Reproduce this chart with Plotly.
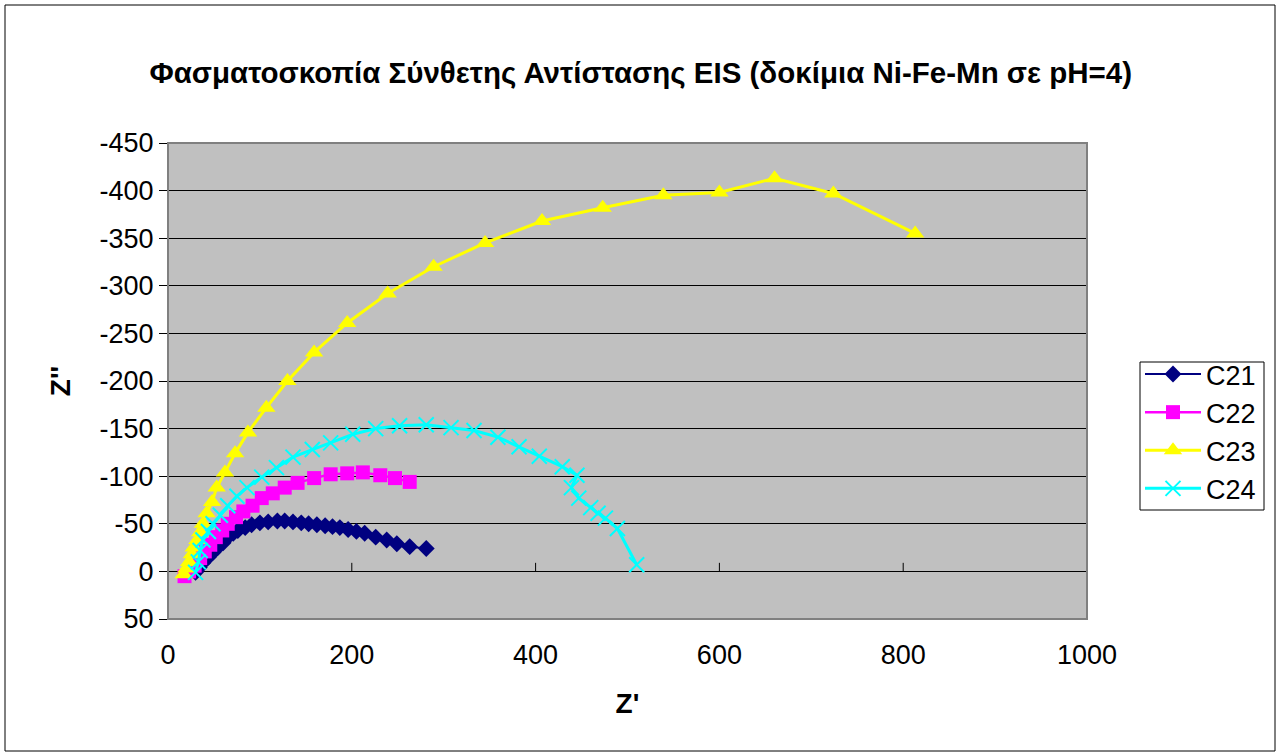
import plotly.graph_objects as go

# Impedance spectra, Z' (real) and Z'' (imaginary) in ohm
c21_re = [30, 34, 38, 44, 49, 54, 60, 65, 71, 76, 84, 91, 100, 109, 119, 127, 136, 145,
          153, 162, 171, 179, 187, 196, 205, 214, 226, 238, 249, 263, 281]
c21_im = [1, -4, -9, -15, -20, -25, -30, -36, -40, -43, -46, -49, -51, -52, -53, -53, -52, -51,
          -50, -49, -48, -47, -46, -44, -42, -40, -36, -33, -29, -26, -24]

c22_re = [18, 23, 29, 35, 40, 46, 52, 59, 65, 74, 82, 92, 102, 114, 127, 141, 159, 177,
          195, 212, 231, 247, 263]
c22_im = [5, 0, -6, -14, -21, -28, -36, -43, -50, -57, -63, -69, -77, -82, -88, -93, -98, -102,
          -103, -104, -101, -98, -94]

c23_re = [17, 20, 23, 26, 28, 32, 35, 38, 42, 48, 53, 62, 73, 87, 107, 130, 159, 195,
          239, 289, 345, 407, 473, 539, 600, 660, 724, 813]
c23_im = [3, -3, -10, -18, -25, -33, -41, -50, -61, -73, -88, -104, -124, -146, -172, -200, -230, -261,
          -292, -320, -345, -368, -382, -395, -398, -413, -397, -355]

c24_re = [30, 33, 35, 38, 44, 49, 57, 65, 75, 86, 102, 118, 136, 157, 177, 201, 226, 252,
          281, 308, 333, 359, 382, 404, 429, 445, 439, 447, 460, 468, 476, 489, 510]
c24_im = [1, -10, -22, -33, -42, -50, -59, -69, -79, -88, -99, -109, -120, -128, -135, -144, -150, -153,
          -154, -151, -148, -141, -131, -121, -110, -101, -88, -77, -67, -61, -56, -45, -7]

x_ticks = [0, 200, 400, 600, 800, 1000]
y_ticks = [-450, -400, -350, -300, -250, -200, -150, -100, -50, 0, 50]
y_tick_text = ["-450", "-400", "-350", "-300", "-250", "-200", "-150", "-100", "-50", "0", "50"]

FONT = "Liberation Sans, Arial, sans-serif"

# Plot area in pixels: left 168, top 143, width 919, height 476
PL, PT, PW, PH = 168, 143, 919, 476


def px_x(v):
    return (v - PL) / PW


def px_y(v):
    return 1 - (v - PT) / PH


series = [
    ("C21", c21_re, c21_im, "#000080", dict(symbol="diamond", size=13, color="#000080"), 2),
    ("C22", c22_re, c22_im, "#FF00FF", dict(symbol="square", size=14, color="#FF00FF"), 2.5),
    ("C23", c23_re, c23_im, "#FFFF00", dict(symbol="triangle-up", size=16, color="#FFFF00"), 3),
    ("C24", c24_re, c24_im, "#00FFFF",
     dict(symbol="x-thin", size=15, color="#00FFFF", line=dict(color="#00FFFF", width=2)), 3),
]

fig = go.Figure()
for name, xs, ys, col, mk, lw in series:
    fig.add_trace(go.Scatter(
        x=xs, y=ys, name=name, mode="lines+markers",
        line=dict(color=col, width=lw), marker=mk,
        legendgroup=name,
    ))

# Major tick marks on the horizontal axis, which crosses at Z'' = 0
for xv in x_ticks[1:]:
    fig.add_shape(type="line", x0=xv, x1=xv, y0=0, y1=-9,
                  xref="x", yref="y", line=dict(color="black", width=1))

# Plot-area frame
fig.add_shape(type="rect", x0=0, x1=1, y0=0, y1=1, xref="paper", yref="paper",
              line=dict(color="#808080", width=2))
# Chart-area frame
fig.add_shape(type="rect", x0=px_x(5), x1=px_x(1275), y0=px_y(751), y1=px_y(5),
              xref="paper", yref="paper", line=dict(color="black", width=1))
# Legend frame
fig.add_shape(type="rect", x0=px_x(1140), x1=px_x(1264), y0=px_y(510), y1=px_y(362),
              xref="paper", yref="paper", fillcolor="white",
              line=dict(color="black", width=1))

fig.update_layout(
    width=1279, height=756,
    margin=dict(l=PL, r=1279 - PL - PW, t=PT, b=756 - PT - PH),
    paper_bgcolor="white",
    plot_bgcolor="#C0C0C0",
    font=dict(family=FONT, size=26, color="black"),
    title=dict(
        text="<b>Φασματοσκοπία Σύνθετης Αντίστασης EIS (δοκίμια Ni-Fe-Mn σε pH=4)</b>",
        x=0.501, xanchor="center", y=1 - 73 / 756, yanchor="middle",
        font=dict(family=FONT, size=29.5, color="black"),
    ),
    xaxis=dict(
        range=[0, 1000], tickvals=x_ticks, showgrid=False, zeroline=False,
        showline=False, ticks="", ticklabelstandoff=17,
        tickfont=dict(size=27),
        title=dict(text="<b>Z'</b>", font=dict(size=28), standoff=24),
    ),
    yaxis=dict(
        range=[50, -450], tickvals=y_ticks, ticktext=y_tick_text,
        showgrid=True, gridcolor="black", gridwidth=1,
        zeroline=True, zerolinecolor="black", zerolinewidth=1,
        showline=True, linecolor="black", linewidth=1,
        ticks="outside", ticklen=8, tickcolor="black",
        tickfont=dict(size=27),
        title=dict(text="<b>Z''</b>", font=dict(size=28), standoff=20),
    ),
    legend=dict(
        x=px_x(1140), xanchor="left",
        y=px_y(350), yanchor="top",
        bgcolor="rgba(0,0,0,0)", borderwidth=0,
        font=dict(size=27), tracegroupgap=0, itemwidth=56,
    ),
    showlegend=True,
)

fig.write_html("out.html")
